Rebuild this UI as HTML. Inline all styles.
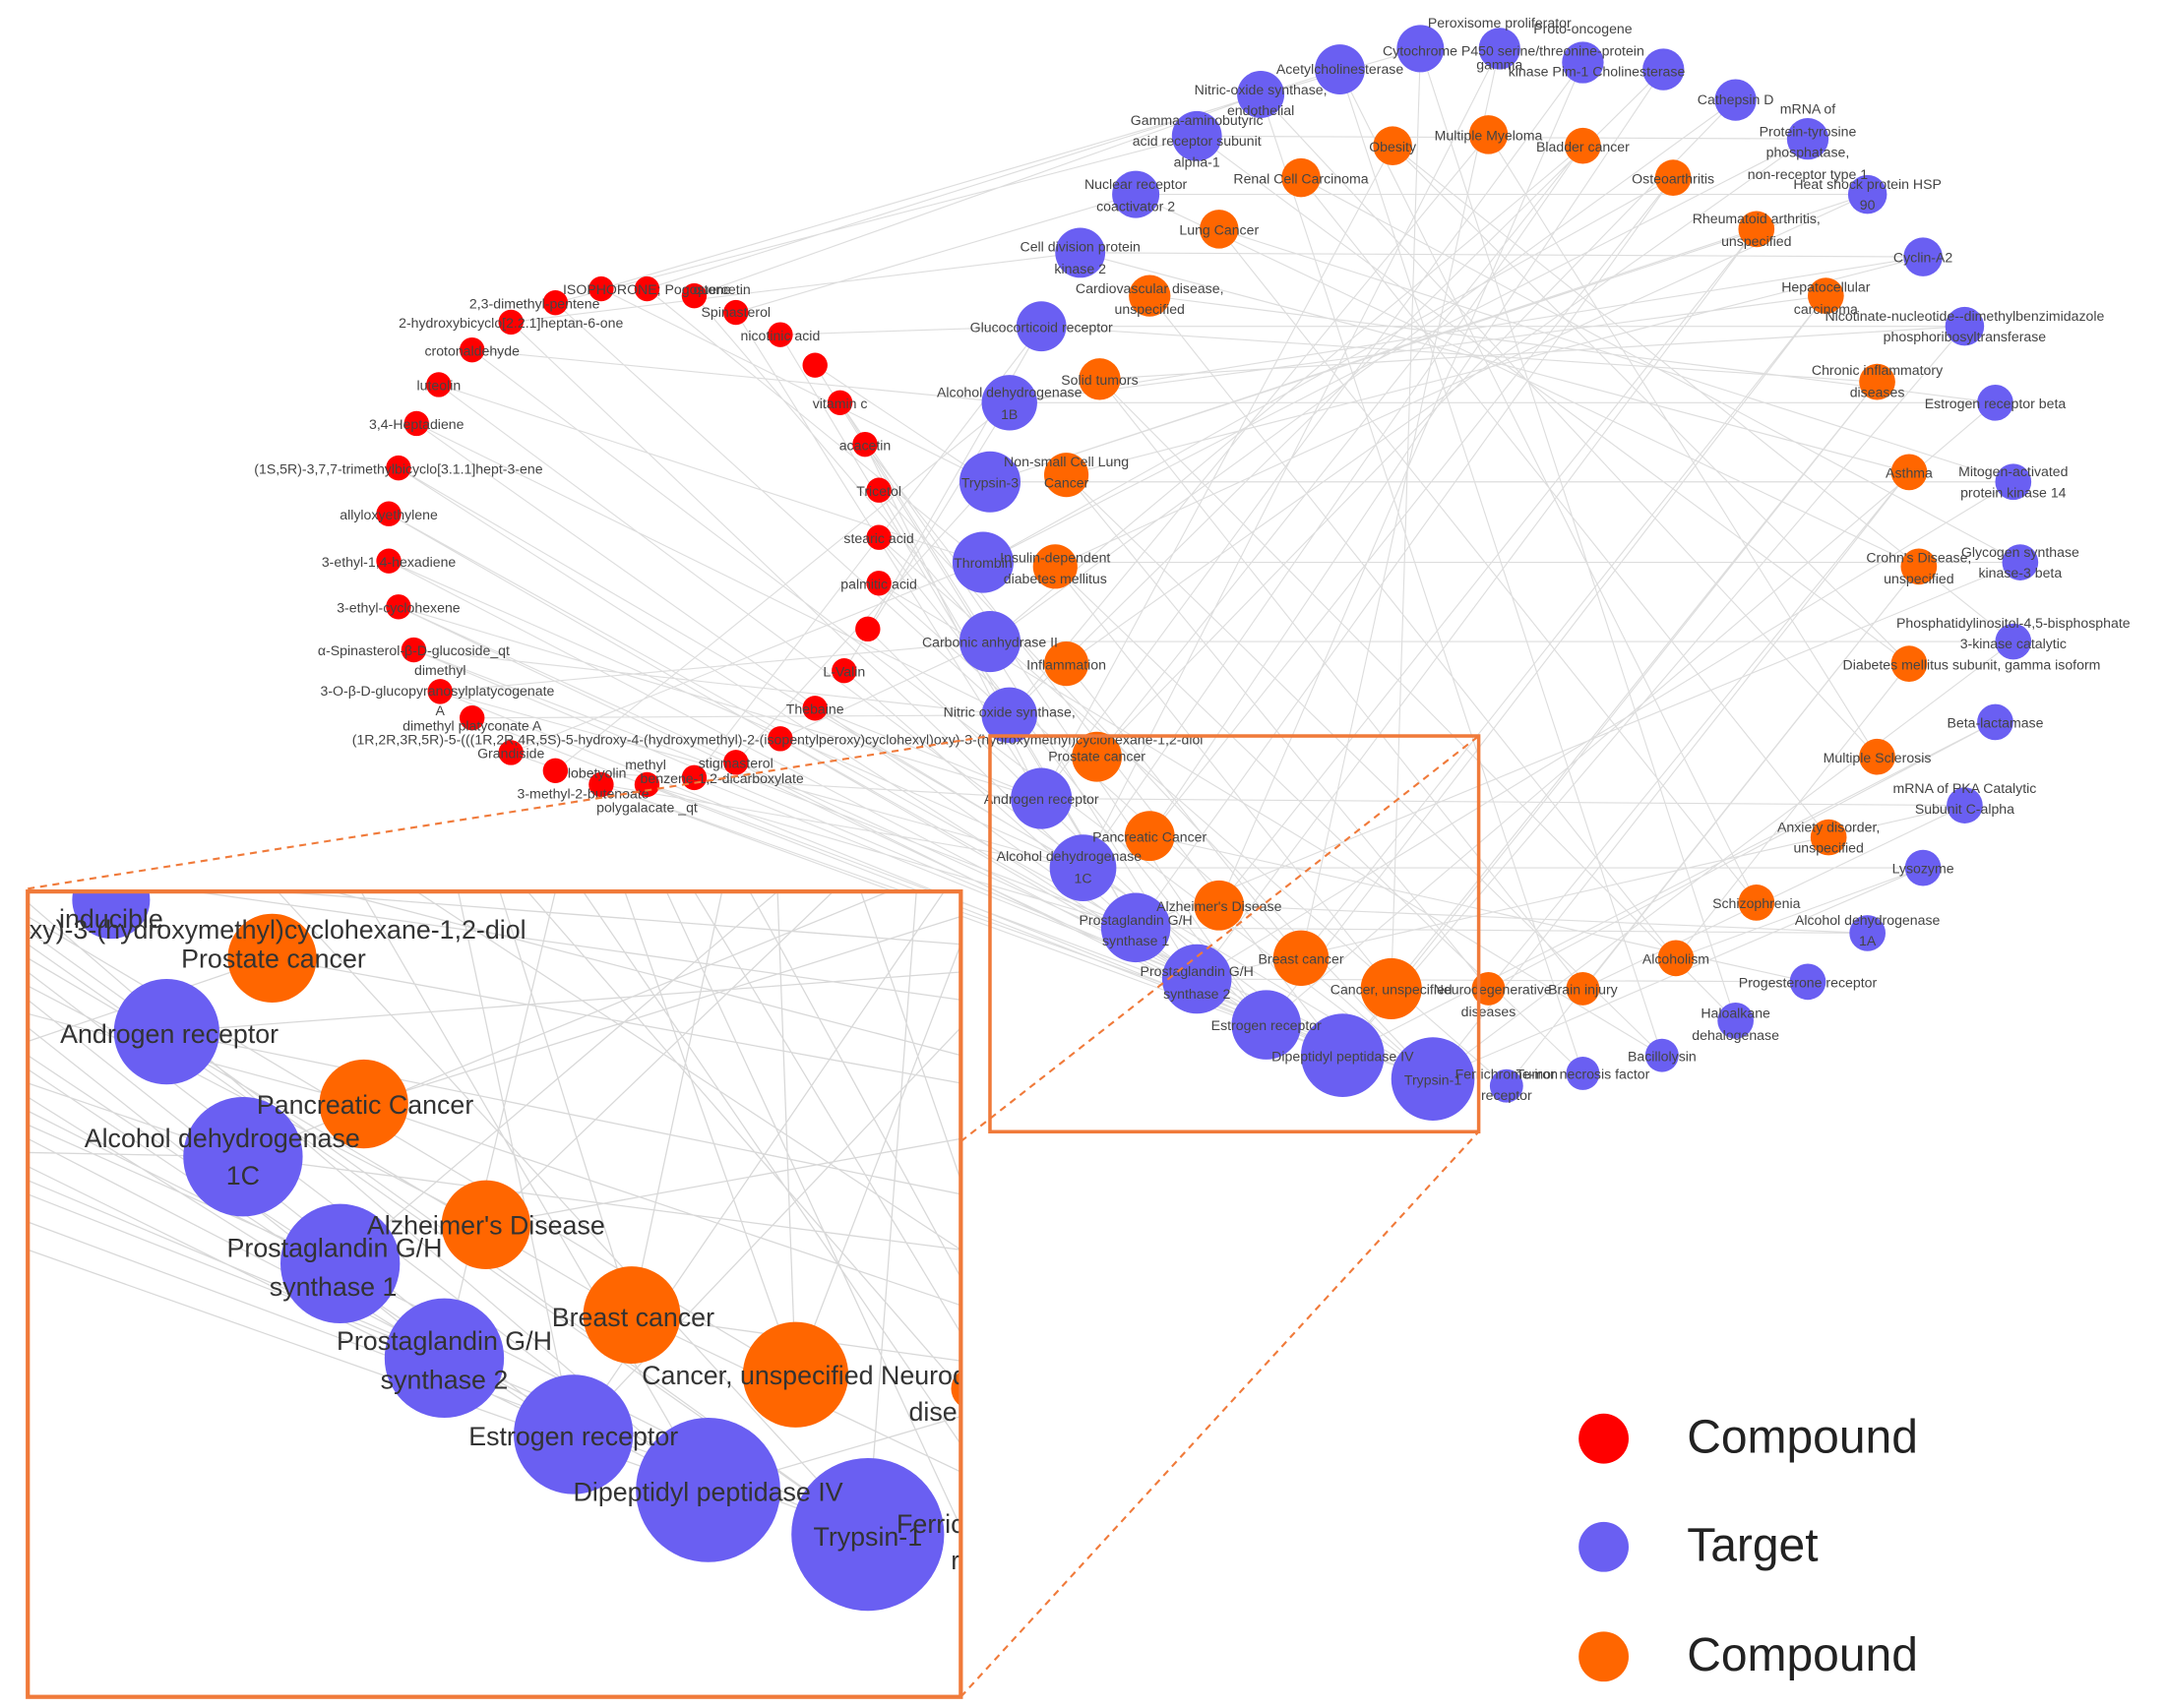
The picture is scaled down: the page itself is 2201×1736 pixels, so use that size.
<!DOCTYPE html>
<html><head><meta charset="utf-8"><style>
html,body{margin:0;padding:0;background:#fff;width:2201px;height:1736px;overflow:hidden}
svg{display:block}
text{font-family:"Liberation Sans",sans-serif;fill:#444}
.s text{font-size:10px;text-anchor:middle}
.b text{font-size:19px;fill:#333;text-anchor:middle}
</style></head><body>
<svg width="2201" height="1736" viewBox="0 0 1560 1230" preserveAspectRatio="none">
<defs><clipPath id="ic"><rect x="20" y="642" width="672" height="580"/></clipPath></defs>
<g stroke="#dddddd" stroke-width="0.8" fill="none">
<path d="M433 208L1023 35M466 208L965 50M500 213L908 68M400 218L862 98M530 225L818 140M368 232L778 182M562 241L750 235M340 252L727 290M587 263L713 347M316 277L708 405M605 290L713 462M300 305L727 515M623 320L750 575M287 337L780 625M633 353L818 668M280 370L862 705M633 387L912 738M280 404L967 760M633 420L1032 777M287 437L967 760M625 453L912 738M298 468L862 705M608 483L818 668M317 498L780 625M587 510L750 575M340 517L727 515M562 532L713 462M368 542L708 405M530 549L713 347M400 555L727 290M500 560L750 235M466 565L1032 777M433 565L967 760M340 252L1032 777M316 277L967 760M300 305L912 738M287 337L862 705M280 370L818 668M280 404L780 625M287 437L750 575M298 468L727 515M317 498L713 462M433 208L713 347M466 208L708 405M500 213L713 462M400 218L727 515M530 225L750 575M368 232L780 625M562 241L818 668M587 263L862 705M605 290L912 738M623 320L967 760M633 353L1032 777M633 387L1085 782M633 420L1197 760M625 453L750 235M608 483L727 290M587 510L1032 777M562 532L967 760M530 549L912 738M500 560L862 705M466 565L818 668M433 565L780 625M400 555L750 575M368 542L1032 777M340 517L967 760M317 498L912 738M298 468L818 668M287 437L1032 777"/>
<path d="M1023 35L1002 712M1080 35L937 690M1140 45L878 652M965 50L1265 650M908 68L1352 545M1198 50L828 602M1250 72L790 545M862 98L1375 478M1302 100L768 478M818 140L1382 408M1345 140L760 408M778 182L1375 340M1385 185L768 342M750 235L1352 275M1415 235L792 273M727 290L1315 213M1437 290L828 213M713 347L1265 165M1450 347L878 165M708 405L1205 128M1455 405L937 128M713 462L1140 105M1450 462L1003 105M727 515L1072 97M1437 520L1072 712M750 575L1003 105M1415 580L1140 712M780 625L1140 105M1385 625L1207 690M818 668L1205 128M1345 672L878 652M862 705L1265 165M1302 707L828 602M912 738L1315 213M1250 735L792 273M967 760L1352 275M1197 760L768 342M1032 777L1375 340M1140 773L760 408M1085 782L1382 408M1003 105L1375 478M1072 97L1352 545M937 128L1317 603M878 165L1265 650M828 213L1207 690M792 273L1140 712M768 342L1072 712M760 408L1002 712M768 478L937 690M1140 105L790 545M1205 128L828 602M1265 165L878 652M1315 213L937 690M1352 275L1002 712M1375 340L1072 712M1382 408L1140 712M1375 478L1207 690M713 462L1450 462M708 405L1455 405M713 347L1450 347M727 290L1437 290M750 235L1415 235M778 182L1385 185M818 140L1345 140M862 98L1302 100M750 575L1415 580M780 625L1385 625M818 668L1345 672M862 705L1302 707M1023 35L1250 735M965 50L1197 760M908 68L1140 773M1080 35L780 625M1140 45L750 575M1198 50L727 515M1250 72L713 462M1302 100L708 405M1345 140L713 347M1385 185L727 290M1415 235L967 760M1437 290L912 738M1450 347L862 705M1455 405L818 668M1450 462L1032 777M1437 520L967 760M1415 580L862 705M1385 625L1032 777"/>
</g>
<g class="s">
<g fill="#ff0000">
<circle cx="433" cy="208" r="9"/><circle cx="466" cy="208" r="9"/><circle cx="500" cy="213" r="9"/><circle cx="400" cy="218" r="9"/><circle cx="530" cy="225" r="9"/><circle cx="368" cy="232" r="9"/><circle cx="562" cy="241" r="9"/><circle cx="340" cy="252" r="9"/><circle cx="587" cy="263" r="9"/><circle cx="316" cy="277" r="9"/><circle cx="605" cy="290" r="9"/><circle cx="300" cy="305" r="9"/><circle cx="623" cy="320" r="9"/><circle cx="287" cy="337" r="9"/><circle cx="633" cy="353" r="9"/><circle cx="280" cy="370" r="9"/><circle cx="633" cy="387" r="9"/><circle cx="280" cy="404" r="9"/><circle cx="633" cy="420" r="9"/><circle cx="287" cy="437" r="9"/><circle cx="625" cy="453" r="9"/><circle cx="298" cy="468" r="9"/><circle cx="608" cy="483" r="9"/><circle cx="317" cy="498" r="9"/><circle cx="587" cy="510" r="9"/><circle cx="340" cy="517" r="9"/><circle cx="562" cy="532" r="9"/><circle cx="368" cy="542" r="9"/><circle cx="530" cy="549" r="9"/><circle cx="400" cy="555" r="9"/><circle cx="500" cy="560" r="9"/><circle cx="466" cy="565" r="9"/><circle cx="433" cy="565" r="9"/>
</g>
<g fill="#6a5ff2">
<circle cx="1023" cy="35" r="17"/><circle cx="1080" cy="35" r="15"/><circle cx="1140" cy="45" r="15"/><circle cx="965" cy="50" r="18"/><circle cx="908" cy="68" r="17"/><circle cx="1198" cy="50" r="15"/><circle cx="1250" cy="72" r="15"/><circle cx="862" cy="98" r="18"/><circle cx="1302" cy="100" r="15"/><circle cx="818" cy="140" r="17"/><circle cx="1345" cy="140" r="14"/><circle cx="778" cy="182" r="18"/><circle cx="1385" cy="185" r="14"/><circle cx="750" cy="235" r="18"/><circle cx="1415" cy="235" r="14"/><circle cx="727" cy="290" r="20"/><circle cx="1437" cy="290" r="13"/><circle cx="713" cy="347" r="22"/><circle cx="1450" cy="347" r="13"/><circle cx="708" cy="405" r="22"/><circle cx="1455" cy="405" r="13"/><circle cx="713" cy="462" r="22"/><circle cx="1450" cy="462" r="13"/><circle cx="727" cy="515" r="20"/><circle cx="1437" cy="520" r="13"/><circle cx="750" cy="575" r="22"/><circle cx="1415" cy="580" r="13"/><circle cx="780" cy="625" r="24"/><circle cx="1385" cy="625" r="13"/><circle cx="818" cy="668" r="25"/><circle cx="1345" cy="672" r="13"/><circle cx="862" cy="705" r="25"/><circle cx="1302" cy="707" r="13"/><circle cx="912" cy="738" r="25"/><circle cx="1250" cy="735" r="13"/><circle cx="967" cy="760" r="30"/><circle cx="1197" cy="760" r="12"/><circle cx="1032" cy="777" r="30"/><circle cx="1140" cy="773" r="12"/><circle cx="1085" cy="782" r="12"/>
</g>
<g fill="#ff6600">
<circle cx="1003" cy="105" r="14"/><circle cx="1072" cy="97" r="14"/><circle cx="1140" cy="105" r="13"/><circle cx="937" cy="128" r="14"/><circle cx="1205" cy="128" r="13"/><circle cx="878" cy="165" r="14"/><circle cx="1265" cy="165" r="13"/><circle cx="828" cy="213" r="15"/><circle cx="1315" cy="213" r="13"/><circle cx="792" cy="273" r="15"/><circle cx="1352" cy="275" r="13"/><circle cx="768" cy="342" r="16"/><circle cx="1375" cy="340" r="13"/><circle cx="760" cy="408" r="16"/><circle cx="1382" cy="408" r="13"/><circle cx="768" cy="478" r="16"/><circle cx="1375" cy="478" r="13"/><circle cx="790" cy="545" r="18"/><circle cx="1352" cy="545" r="13"/><circle cx="828" cy="602" r="18"/><circle cx="1317" cy="603" r="13"/><circle cx="878" cy="652" r="18"/><circle cx="1265" cy="650" r="13"/><circle cx="937" cy="690" r="20"/><circle cx="1207" cy="690" r="13"/><circle cx="1002" cy="712" r="22"/><circle cx="1140" cy="712" r="12"/><circle cx="1072" cy="712" r="12"/>
</g>
<text x="466" y="212">ISOPHORONE; Pogostone</text><text x="385" y="222">2,3-dimethyl-pentene</text><text x="520" y="212">quercetin</text>
<text x="368" y="236">2-hydroxybicyclo[2.2.1]heptan-6-one</text><text x="530" y="228">Spinasterol</text><text x="340" y="256">crotonaldehyde</text><text x="562" y="245">nicotinic acid</text><text x="316" y="281">luteolin</text><text x="300" y="309">3,4-Heptadiene</text><text x="605" y="294">vitamin c</text><text x="287" y="341">(1S,5R)-3,7,7-trimethylbicyclo[3.1.1]hept-3-ene</text><text x="623" y="324">acacetin</text><text x="280" y="374">allyloxyethylene</text><text x="633" y="357">Tricetol</text><text x="280" y="408">3-ethyl-1,4-hexadiene</text><text x="633" y="391">stearic acid</text><text x="287" y="441">3-ethyl-cyclohexene</text><text x="633" y="424">palmitic acid</text><text x="298" y="472">α-Spinasterol-β-D-glucoside_qt</text><text x="317" y="486">dimethyl</text><text x="315" y="501">3-O-β-D-glucopyranosylplatycogenate</text><text x="608" y="487">L-Valin</text><text x="317" y="515">A</text><text x="340" y="526">dimethyl platyconate A</text><text x="587" y="514">Thebaine</text><text x="560" y="536">(1R,2R,3R,5R)-5-(((1R,2R,4R,5S)-5-hydroxy-4-(hydroxymethyl)-2-(isopentylperoxy)cyclohexyl)oxy)-3-(hydroxymethyl)cyclohexane-1,2-diol</text><text x="368" y="546">Grandiside</text><text x="465" y="554">methyl</text><text x="530" y="553">stigmasterol</text><text x="430" y="560">lobetyolin</text><text x="520" y="564">benzene-1,2-dicarboxylate</text><text x="420" y="575">3-methyl-2-butenoate</text><text x="466" y="585">polygalacate _qt</text>
<text x="1080" y="20">Peroxisome proliferator</text><text x="1140" y="24">Proto-oncogene</text><text x="1090" y="40">Cytochrome P450 serine/threonine-protein</text><text x="1080" y="50">gamma</text><text x="1150" y="55">kinase Pim-1 Cholinesterase</text><text x="965" y="53">Acetylcholinesterase</text><text x="908" y="68">Nitric-oxide synthase,</text><text x="908" y="83">endothelial</text><text x="862" y="90">Gamma-aminobutyric</text><text x="862" y="105">acid receptor subunit</text><text x="862" y="120">alpha-1</text><text x="1250" y="75">Cathepsin D</text><text x="1302" y="82">mRNA of</text><text x="1302" y="98">Protein-tyrosine</text><text x="1302" y="113">phosphatase,</text><text x="1302" y="129">non-receptor type 1</text><text x="1345" y="136">Heat shock protein HSP</text><text x="1345" y="151">90</text><text x="1003" y="109">Obesity</text><text x="1072" y="101">Multiple Myeloma</text><text x="1140" y="109">Bladder cancer</text><text x="937" y="132">Renal Cell Carcinoma</text><text x="1205" y="132">Osteoarthritis</text><text x="818" y="136">Nuclear receptor</text><text x="818" y="152">coactivator 2</text><text x="878" y="169">Lung Cancer</text><text x="1265" y="161">Rheumatoid arthritis,</text><text x="1265" y="177">unspecified</text><text x="778" y="181">Cell division protein</text><text x="778" y="197">kinase 2</text><text x="1385" y="189">Cyclin-A2</text><text x="828" y="211">Cardiovascular disease,</text><text x="828" y="226">unspecified</text><text x="1315" y="210">Hepatocellular</text><text x="1315" y="226">carcinoma</text><text x="1415" y="231">Nicotinate-nucleotide--dimethylbenzimidazole</text><text x="1415" y="246">phosphoribosyltransferase</text><text x="750" y="239">Glucocorticoid receptor</text><text x="792" y="277">Solid tumors</text><text x="1352" y="270">Chronic inflammatory</text><text x="1352" y="286">diseases</text><text x="727" y="286">Alcohol dehydrogenase</text><text x="727" y="302">1B</text><text x="1437" y="294">Estrogen receptor beta</text><text x="768" y="336">Non-small Cell Lung</text><text x="768" y="351">Cancer</text><text x="713" y="351">Trypsin-3</text><text x="1375" y="344">Asthma</text><text x="1450" y="343">Mitogen-activated</text><text x="1450" y="358">protein kinase 14</text><text x="760" y="405">Insulin-dependent</text><text x="760" y="420">diabetes mellitus</text><text x="708" y="409">Thrombin</text><text x="1382" y="405">Crohn's Disease,</text><text x="1382" y="420">unspecified</text><text x="1455" y="401">Glycogen synthase</text><text x="1455" y="416">kinase-3 beta</text><text x="713" y="466">Carbonic anhydrase II</text><text x="768" y="482">Inflammation</text><text x="1450" y="452">Phosphatidylinositol-4,5-bisphosphate</text><text x="1450" y="467">3-kinase catalytic</text><text x="1420" y="482">Diabetes mellitus subunit, gamma isoform</text><text x="727" y="516">Nitric oxide synthase,</text><text x="1437" y="524">Beta-lactamase</text><text x="790" y="548">Prostate cancer</text><text x="1352" y="549">Multiple Sclerosis</text><text x="1415" y="571">mRNA of PKA Catalytic</text><text x="1415" y="586">Subunit C-alpha</text><text x="750" y="579">Androgen receptor</text><text x="828" y="606">Pancreatic Cancer</text><text x="1317" y="599">Anxiety disorder,</text><text x="1317" y="614">unspecified</text><text x="1385" y="629">Lysozyme</text><text x="770" y="620">Alcohol dehydrogenase</text><text x="780" y="636">1C</text><text x="878" y="656">Alzheimer's Disease</text><text x="1265" y="654">Schizophrenia</text><text x="1345" y="666">Alcohol dehydrogenase</text><text x="1345" y="681">1A</text><text x="818" y="666">Prostaglandin G/H</text><text x="818" y="681">synthase 1</text><text x="937" y="694">Breast cancer</text><text x="1207" y="694">Alcoholism</text><text x="1302" y="711">Progesterone receptor</text><text x="862" y="703">Prostaglandin G/H</text><text x="862" y="719">synthase 2</text><text x="1002" y="716">Cancer, unspecified</text><text x="1075" y="716">Neurodegenerative</text><text x="1072" y="732">diseases</text><text x="1140" y="716">Brain injury</text><text x="1250" y="733">Haloalkane</text><text x="1250" y="749">dehalogenase</text><text x="912" y="742">Estrogen receptor</text><text x="967" y="764">Dipeptidyl peptidase IV</text><text x="1197" y="764">Bacillolysin</text><text x="1032" y="781">Trypsin-1</text><text x="1085" y="777">Ferrichrome-iron</text><text x="1140" y="777">Tumor necrosis factor</text><text x="1085" y="792">receptor</text>
</g>
<rect x="713" y="530" width="352" height="285" fill="none" stroke="#f07a3a" stroke-width="2.5"/>
<g stroke="#f07a3a" stroke-width="1.5" stroke-dasharray="5,4"><line x1="20" y1="640" x2="713" y2="530"/><line x1="692" y1="822" x2="1065" y2="530"/><line x1="692" y1="1222" x2="1065" y2="815"/></g>
<rect x="20" y="642" width="672" height="580" fill="#fff" stroke="none"/>
<g clip-path="url(#ic)">
<g stroke="#d8d8d8" stroke-width="0.9">
<path d="M20 680L625 1105M20 700L510 1073M20 720L413 1033M20 740L320 978M20 760L245 910M20 780L175 833M20 800L625 1105M20 820L510 1073M20 840L413 1033M20 860L320 978M20 880L625 1105M20 900L510 1073M20 660L573 990M20 690L455 947M20 710L350 882M20 730L262 795M20 750L196 690M20 670L625 1105M20 650L510 1073M20 770L413 1033M20 790L320 978M20 810L245 910M20 830L175 833M20 850L625 1105M200 642L625 1105M260 642L510 1073M330 642L413 1033M400 642L320 978M450 642L573 990M520 642L455 947M560 642L245 910M600 642L350 882M640 642L175 833M692 660L262 795M692 700L120 743M692 740L413 1033M692 780L196 690M692 820L350 882M692 860L120 743M692 900L175 833M692 940L262 795M692 980L455 947M692 1020L510 1073M380 642L692 1000M300 642L692 900M240 642L692 760M480 642L692 1100M560 642L573 990M620 642L692 850M140 642L692 720M680 642L413 1033M660 642L625 1105M500 642L692 960M420 642L692 1040M200 642L692 680M360 642L455 947M540 642L692 920M692 680L573 990M692 1060L455 947"/>
</g>
<g fill="#6a5ff2"><circle cx="80" cy="648" r="28"/><circle cx="120" cy="743" r="38"/><circle cx="175" cy="833" r="43"/><circle cx="245" cy="910" r="43"/><circle cx="320" cy="978" r="43"/><circle cx="413" cy="1033" r="43"/><circle cx="510" cy="1073" r="52"/><circle cx="625" cy="1105" r="55"/></g>
<g fill="#ff6600"><circle cx="196" cy="690" r="32"/><circle cx="262" cy="795" r="32"/><circle cx="350" cy="882" r="32"/><circle cx="455" cy="947" r="35"/><circle cx="573" cy="990" r="38"/><circle cx="700" cy="1000" r="15"/></g>
<g class="b">
<text x="80" y="668">inducible</text><text x="200" y="676">xy)-3-(hydroxymethyl)cyclohexane-1,2-diol</text><text x="197" y="697">Prostate cancer</text><text x="122" y="751">Androgen receptor</text><text x="263" y="802">Pancreatic Cancer</text><text x="160" y="826">Alcohol dehydrogenase</text><text x="175" y="853">1C</text><text x="350" y="889">Alzheimer's Disease</text><text x="241" y="905">Prostaglandin G/H</text><text x="240" y="933">synthase 1</text><text x="456" y="955">Breast cancer</text><text x="320" y="972">Prostaglandin G/H</text><text x="320" y="1000">synthase 2</text><text x="590" y="997">Cancer, unspecified Neurodeg</text><text x="672" y="1023">dise</text><text x="413" y="1041">Estrogen receptor</text><text x="510" y="1081">Dipeptidyl peptidase IV</text><text x="625" y="1113">Trypsin-1</text><text x="670" y="1104">Ferric</text><text x="688" y="1130">r</text></g>
</g>
<rect x="20" y="642" width="672" height="580" fill="none" stroke="#f07a3a" stroke-width="3"/>
<circle cx="1155" cy="1036" r="18" fill="#ff0000"/><circle cx="1155" cy="1114" r="18" fill="#6a5ff2"/><circle cx="1155" cy="1193" r="18" fill="#ff6600"/>
<g><text x="1215" y="1046" style="font-size:34px;fill:#222">Compound</text><text x="1215" y="1124" style="font-size:34px;fill:#222">Target</text><text x="1215" y="1203" style="font-size:34px;fill:#222">Compound</text></g>
</svg>
</body></html>
